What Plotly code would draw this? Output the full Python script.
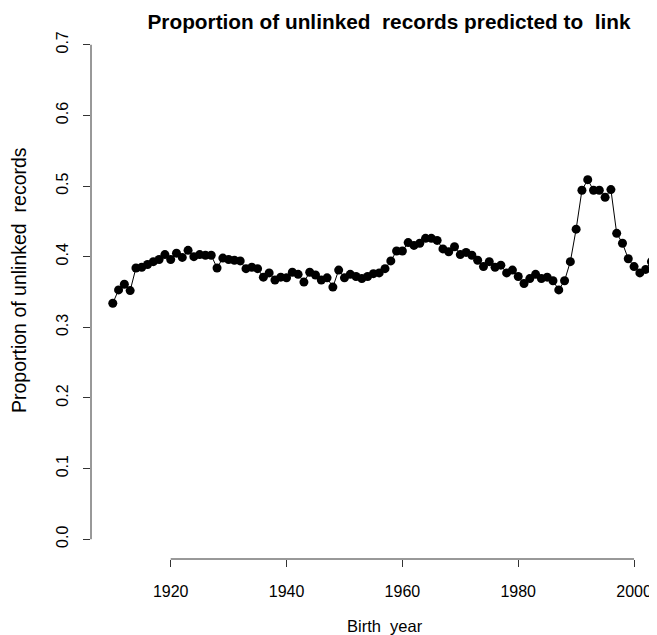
import plotly.graph_objects as go

years = list(range(1910, 2005))
proportion = [
    0.334, 0.353, 0.361, 0.352, 0.384, 0.385, 0.389, 0.393, 0.396, 0.403,
    0.396, 0.405, 0.399, 0.409, 0.400, 0.403, 0.402, 0.402, 0.384, 0.398,
    0.396, 0.395, 0.394, 0.383, 0.385, 0.383, 0.371, 0.377, 0.367, 0.371,
    0.370, 0.378, 0.375, 0.364, 0.378, 0.374, 0.367, 0.370, 0.357, 0.381,
    0.370, 0.375, 0.372, 0.369, 0.372, 0.376, 0.377, 0.383, 0.394, 0.408,
    0.408, 0.420, 0.416, 0.419, 0.426, 0.426, 0.423, 0.411, 0.407, 0.414,
    0.403, 0.406, 0.402, 0.395, 0.386, 0.393, 0.385, 0.388, 0.377, 0.381,
    0.372, 0.362, 0.369, 0.375, 0.369, 0.371, 0.366, 0.353, 0.366, 0.393,
    0.439, 0.494, 0.509, 0.494, 0.494, 0.484, 0.495, 0.433, 0.419, 0.397,
    0.386, 0.377, 0.382, 0.393, 0.424,
]
x_ticks = [1920, 1940, 1960, 1980, 2000]
y_ticks = [0.0, 0.1, 0.2, 0.3, 0.4, 0.5, 0.6, 0.7]

FONT = "Liberation Sans, Arial, sans-serif"
OFF = 8  # browser body margin
W, H = 657 - OFF, 635 - OFF
L, T = 91 - OFF, 25 - OFF
BOTTOM = 559 - OFF
B = H - BOTTOM
plot_w = W - L
plot_h = BOTTOM - T

fig = go.Figure()
fig.add_trace(go.Scatter(
    x=years, y=proportion, mode="lines+markers",
    line=dict(color="black", width=1),
    marker=dict(color="black", size=9),
    cliponaxis=True, showlegend=False,
))

fig.update_layout(
    width=W, height=H,
    margin=dict(l=L, r=0, t=T, b=B, autoexpand=False),
    plot_bgcolor="white", paper_bgcolor="white",
    font=dict(family=FONT, size=16, color="black"),
    xaxis=dict(
        range=[1906.24, 2003.96], tickvals=x_ticks,
        ticktext=[str(v) for v in x_ticks],
        ticks="outside", ticklen=7, tickcolor="#333", tickwidth=1,
        showline=False, showgrid=False, zeroline=False,
        tickfont=dict(family=FONT, size=16, color="black"),
        ticklabelstandoff=11,
    ),
    yaxis=dict(
        range=[-0.028, 0.728], tickvals=y_ticks,
        ticktext=["%.1f" % v for v in y_ticks],
        ticks="outside", ticklen=7, tickcolor="#333", tickwidth=1,
        showline=False, showgrid=False, zeroline=False,
        tickangle=-90,
        tickfont=dict(family=FONT, size=16, color="black"),
        ticklabelstandoff=9,
    ),
    title=dict(
        text="<b>Proportion of unlinked\u00a0 records predicted to\u00a0 link</b>",
        font=dict(family=FONT, size=20.8, color="black"),
        x=(389 - OFF) / W, xref="container", xanchor="center",
        y=1 - (22 - OFF) / H, yref="container", yanchor="middle",
    ),
    shapes=[
        dict(type="line", xref="x", yref="paper", x0=x_ticks[0], x1=x_ticks[-1],
             y0=0, y1=0, line=dict(color="#333", width=1)),
        dict(type="line", xref="paper", yref="y", x0=0, x1=0,
             y0=y_ticks[0], y1=y_ticks[-1], line=dict(color="#333", width=1)),
    ],
    annotations=[
        dict(text="Birth\u00a0 year", xref="paper", yref="paper",
             x=(385 - 91) / plot_w, y=(559 - 626) / plot_h,
             xanchor="center", yanchor="middle", showarrow=False,
             font=dict(family=FONT, size=16.5, color="black")),
        dict(text="Proportion of unlinked\u00a0 records", xref="paper", yref="paper",
             x=(19 - 91) / plot_w, y=(559 - 280) / plot_h, textangle=-90,
             xanchor="center", yanchor="middle", showarrow=False,
             font=dict(family=FONT, size=19.5, color="black")),
    ],
)

fig.write_html("out.html")
